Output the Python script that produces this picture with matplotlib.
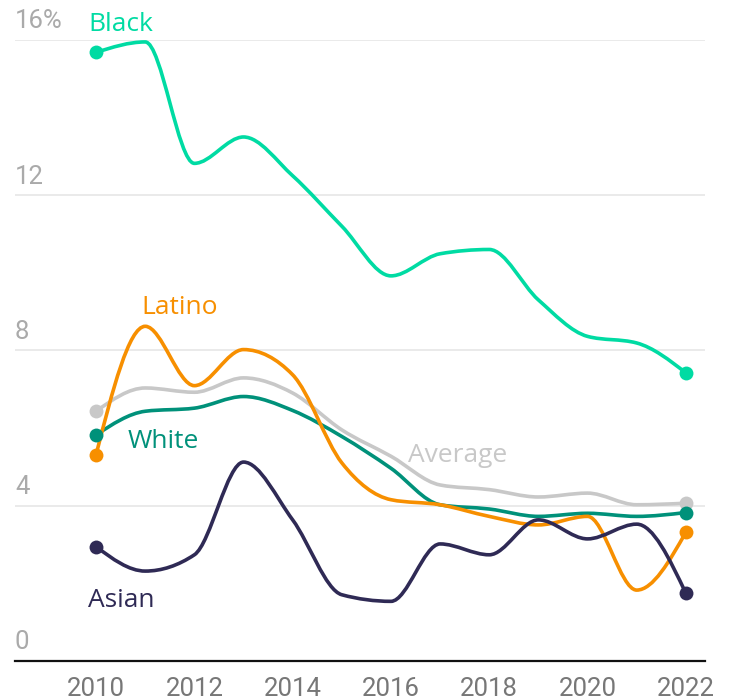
import matplotlib
matplotlib.use("Agg")
import matplotlib.pyplot as plt
import numpy as np
from matplotlib.path import Path
from matplotlib.patches import PathPatch
from matplotlib.transforms import blended_transform_factory

years = list(range(2010, 2023))
black = [15.68, 15.95, 12.82, 13.5, 12.5, 11.2, 9.92, 10.49, 10.6, 9.3, 8.36, 8.19, 7.42]
latino = [5.31, 8.62, 7.09, 8.02, 7.37, 5.1, 4.15, 4.02, 3.72, 3.5, 3.72, 1.82, 3.31]
average = [6.43, 7.03, 6.92, 7.29, 6.9, 5.95, 5.27, 4.53, 4.41, 4.22, 4.32, 4.02, 4.06]
white = [5.82, 6.43, 6.51, 6.81, 6.45, 5.78, 4.96, 4.02, 3.91, 3.72, 3.8, 3.72, 3.82]
asian = [2.94, 2.31, 2.73, 5.12, 3.63, 1.7, 1.53, 3.01, 2.73, 3.63, 3.14, 3.52, 1.74]

yticks = [0, 4, 8, 12, 16]
ytick_labels = ["0", "4", "8", "12", "16%"]
xticks = [2010, 2012, 2014, 2016, 2018, 2020, 2022]

C_BLACK = "#00dba3"
C_LATINO = "#f78f00"
C_AVG = "#c8c8c8"
C_WHITE = "#00917a"
C_ASIAN = "#2f2a55"

LABEL_FONT = ["Open Sans", "DejaVu Sans"]
TICK_FONT = ["Roboto", "DejaVu Sans"]


def monotone_path(xs, ys):
    # cubic bezier path with monotone-x tangents (like d3.curveMonotoneX)
    x = np.asarray(xs, float)
    y = np.asarray(ys, float)
    n = len(x)
    h = np.diff(x)
    s = np.diff(y) / h
    t = np.zeros(n)
    for i in range(1, n - 1):
        p = (s[i - 1] * h[i] + s[i] * h[i - 1]) / (h[i - 1] + h[i])
        t[i] = (np.sign(s[i - 1]) + np.sign(s[i])) * min(abs(s[i - 1]), abs(s[i]), 0.5 * abs(p))
    t[0] = (3 * s[0] - t[1]) / 2
    t[-1] = (3 * s[-1] - t[-2]) / 2
    verts = [(x[0], y[0])]
    codes = [Path.MOVETO]
    for i in range(n - 1):
        dx = h[i] / 3
        verts += [(x[i] + dx, y[i] + dx * t[i]), (x[i + 1] - dx, y[i + 1] - dx * t[i + 1]), (x[i + 1], y[i + 1])]
        codes += [Path.CURVE4] * 3
    return Path(verts, codes)


fig = plt.figure(figsize=(7.3, 7.0), dpi=100)
ax = fig.add_axes([15 / 730, 39.3 / 700, 690 / 730, 620.7 / 700])
ax.set_xlim(2008.35, 2022.39)
ax.set_ylim(0, 16)

for v in yticks[1:]:
    ax.axhline(v, color="#e6e6e6", lw=1.2, zorder=0)

for vals, col in [(average, C_AVG), (white, C_WHITE), (latino, C_LATINO),
                  (asian, C_ASIAN), (black, C_BLACK)]:
    ax.add_patch(PathPatch(monotone_path(years, vals), facecolor="none", edgecolor=col,
                           lw=2.6, capstyle="round", joinstyle="round", clip_on=False, zorder=3))
    ax.plot([years[0], years[-1]], [vals[0], vals[-1]], "o", color=col, ms=10,
            mew=0, clip_on=False, zorder=4)

for sp in ("top", "right", "left"):
    ax.spines[sp].set_visible(False)
ax.spines["bottom"].set_color("#111111")
ax.spines["bottom"].set_linewidth(1.6)
ax.set_yticks([])
ax.set_xticks(xticks)
ax.set_xticklabels([str(x) for x in xticks], fontsize=18.5, color="#777777", family=TICK_FONT)
ax.tick_params(axis="x", length=0, pad=12)

trans = blended_transform_factory(ax.transAxes, ax.transData)
for v, lab in zip(yticks, ytick_labels):
    ax.text(0, v + 0.48, lab, transform=trans, ha="left", va="center", fontsize=18.5,
            color="#aaaaaa", family=TICK_FONT)

ax.text(2009.84, 16.4, "Black", color=C_BLACK, fontsize=19, ha="left", va="center", family=LABEL_FONT)
ax.text(2010.93, 9.1, "Latino", color=C_LATINO, fontsize=19, ha="left", va="center", family=LABEL_FONT)
ax.text(2010.65, 5.64, "White", color=C_WHITE, fontsize=19, ha="left", va="center", family=LABEL_FONT)
ax.text(2016.34, 5.28, "Average", color=C_AVG, fontsize=19, ha="left", va="center", family=LABEL_FONT)
ax.text(2009.84, 1.54, "Asian", color=C_ASIAN, fontsize=19, ha="left", va="center", family=LABEL_FONT)

fig.savefig("out.png", dpi=100)
